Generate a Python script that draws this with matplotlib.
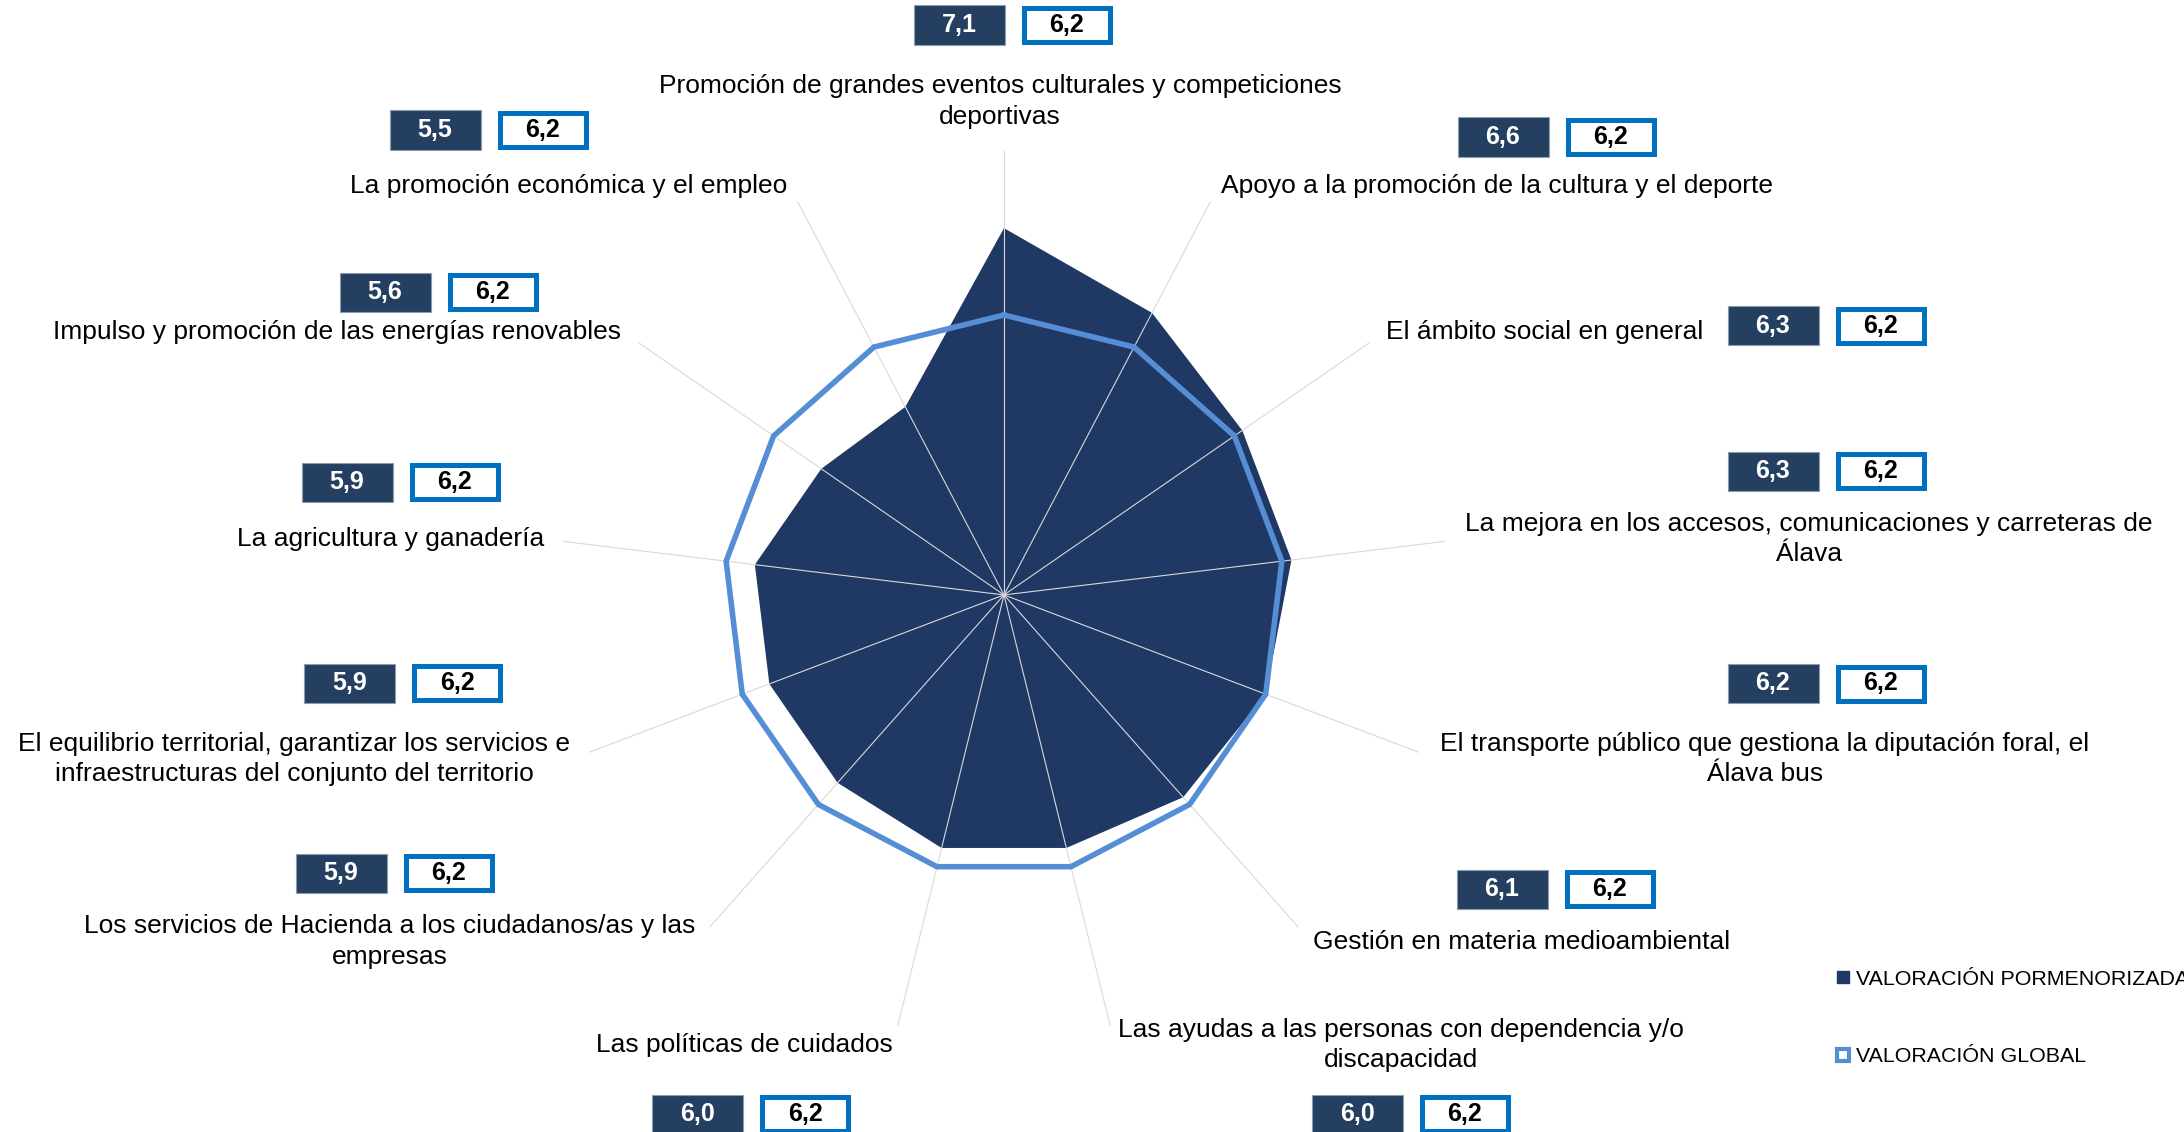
import numpy as np
import matplotlib
matplotlib.use("Agg")
import matplotlib.pyplot as plt
from matplotlib.patches import Rectangle
from matplotlib.lines import Line2D

plt.rcParams['font.family'] = ['Liberation Sans', 'DejaVu Sans']

# datos
categorias = [
    "Promoción de grandes eventos culturales y competiciones\ndeportivas",
    "Apoyo a la promoción de la cultura y el deporte",
    "El ámbito social en general",
    "La mejora en los accesos, comunicaciones y carreteras de\nÁlava",
    "El transporte público que gestiona la diputación foral, el\nÁlava bus",
    "Gestión en materia medioambiental",
    "Las ayudas a las personas con dependencia y/o\ndiscapacidad",
    "Las políticas de cuidados",
    "Los servicios de Hacienda a los ciudadanos/as y las\nempresas",
    "El equilibrio territorial, garantizar los servicios e\ninfraestructuras del conjunto del territorio",
    "La agricultura y ganadería",
    "Impulso y promoción de las energías renovables",
    "La promoción económica y el empleo",
]
pormenorizada = [7.1, 6.6, 6.3, 6.3, 6.2, 6.1, 6.0, 6.0, 5.9, 5.9, 5.9, 5.6, 5.5]
valoracion_global = [6.2, 6.2, 6.2, 6.2, 6.2, 6.2, 6.2, 6.2, 6.2, 6.2, 6.2, 6.2, 6.2]

NAVY = '#1F3864'
BOX_NAVY = '#243F60'
LINE_BLUE = '#558ED5'
BORDER_BLUE = '#0070C0'

W, H = 2184, 1132
fig = plt.figure(figsize=(W / 100, H / 100), dpi=100)


def fx(x):
    return x / W


def fy(y):
    return 1 - y / H


# posiciones (px) de etiquetas y cajas de valores
label_pos = [(1000, 101.5), (1497, 186), (1545, 332), (1809, 539), (1765, 759),
             (1522, 942), (1401, 1045), (744, 1045), (390, 941.5), (294, 759),
             (391, 539), (337, 332), (569, 186)]
box_pos = [(959.5, 25), (1503, 137), (1773, 326), (1773, 471), (1773, 683.5),
           (1502, 889), (1357.5, 1114), (697.7, 1114), (341, 873), (349.6, 683),
           (347, 482), (385, 292), (435, 130)]

# radar
n = len(categorias)
theta = np.linspace(0, 2 * np.pi, n, endpoint=False)
th = np.append(theta, theta[0])

ax = fig.add_axes([0.2564, 0.0822, 0.4066, 0.7845], projection='polar')
ax.set_theta_offset(np.pi / 2)
ax.set_theta_direction(-1)

ax.fill(th, pormenorizada + pormenorizada[:1], color=NAVY, lw=0, zorder=2)
ax.plot(th, valoracion_global + valoracion_global[:1], color=LINE_BLUE, lw=4,
        solid_joinstyle='miter', zorder=3)

ax.set_ylim(3.3, 7.9)
ax.set_yticks([])
ax.set_xticks(theta)
ax.set_xticklabels([])
ax.xaxis.grid(True, color='#D9D9D9', lw=0.8)
ax.set_axisbelow(False)
ax.spines['polar'].set_visible(False)
ax.set_facecolor('none')

# etiquetas
for i, txt in enumerate(categorias):
    x, y = label_pos[i]
    fig.text(fx(x), fy(y), txt, ha='center', va='center', fontsize=19,
             multialignment='center', linespacing=1.35)

# cajas de valores
bw, bh = 91, 39
for i in range(n):
    cx, cy = box_pos[i]
    fig.patches.append(Rectangle((fx(cx - bw / 2), fy(cy + bh / 2)), bw / W, bh / H,
                                 transform=fig.transFigure, facecolor=BOX_NAVY,
                                 edgecolor='#8C9BB0', lw=0.8))
    fig.text(fx(cx), fy(cy), f"{pormenorizada[i]:.1f}".replace('.', ','),
             ha='center', va='center', fontsize=18, fontweight='bold', color='white')
    gx = cx + 107.5
    fig.patches.append(Rectangle((fx(gx - (bw - 5) / 2), fy(cy + (bh - 5) / 2)),
                                 (bw - 5) / W, (bh - 5) / H,
                                 transform=fig.transFigure, facecolor='white',
                                 edgecolor=BORDER_BLUE, lw=3.6))
    fig.text(fx(gx), fy(cy), f"{valoracion_global[i]:.1f}".replace('.', ','),
             ha='center', va='center', fontsize=18, fontweight='bold', color='black')

# leyenda (en el original también queda cortada por el borde derecho)
handles = [
    Line2D([], [], marker='s', ls='none', markersize=8, markerfacecolor=NAVY,
           markeredgecolor=NAVY),
    Line2D([], [], marker='s', ls='none', markersize=9, markerfacecolor='white',
           markeredgecolor=LINE_BLUE, markeredgewidth=3),
]
fig.legend(handles, ["VALORACIÓN PORMENORIZADA", "VALORACIÓN GLOBAL"],
           loc='center left', bbox_to_anchor=(fx(1826), fy(1018)), frameon=False,
           fontsize=15.4, handlelength=0.6, handletextpad=0.3, labelspacing=2.73,
           borderpad=0)

fig.savefig('out.png', dpi=100)
